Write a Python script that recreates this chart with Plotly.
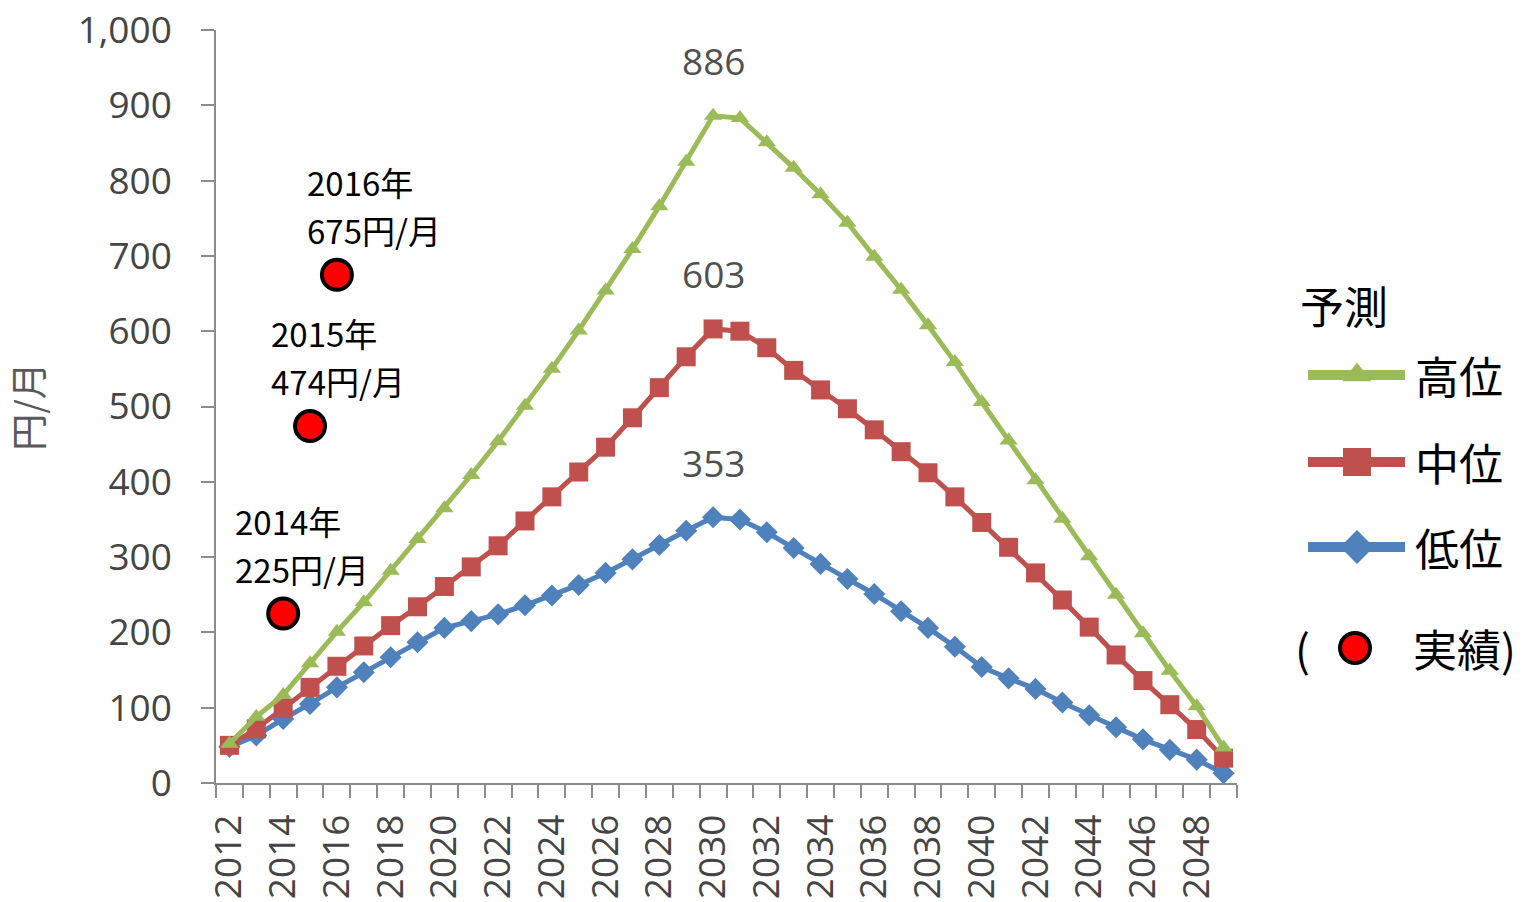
import plotly.graph_objects as go

# ---- data -------------------------------------------------------------
years = list(range(2012, 2050))

high = [52, 88, 117, 159, 201, 240, 282, 324, 365, 409,
        454, 501, 550, 601, 654, 709, 766, 825, 886, 883,
        851, 817, 782, 744, 699, 655, 608, 559, 506, 455,
        402, 351, 301, 250, 199, 149, 102, 47]

mid = [50, 72, 99, 127, 155, 182, 209, 234, 261, 287,
       315, 348, 380, 413, 446, 485, 525, 566, 603, 600,
       578, 548, 522, 497, 469, 440, 412, 380, 346, 313,
       279, 243, 207, 170, 136, 104, 71, 33]

low = [48, 63, 85, 105, 127, 147, 167, 187, 206, 215,
       224, 236, 249, 263, 279, 297, 316, 335, 353, 350,
       333, 312, 291, 271, 251, 228, 206, 181, 154, 139,
       125, 107, 90, 74, 58, 44, 31, 13]

series_names = ["高位", "中位", "低位"]
peak_year = 2030

actual_years = [2014, 2015, 2016]
actual_values = [225, 474, 675]

y_ticks = list(range(0, 1001, 100))
x_tick_years = list(range(2012, 2049, 2))

# ---- style ------------------------------------------------------------
GREEN = "#9BBB59"
RED = "#C0504D"
BLUE = "#4F81BD"
AXIS = "#8c8c8c"
TICK_TXT = "#454545"
NUM_FONT = "Open Sans"
JP_FONT = "Noto Sans CJK JP"

W, H = 1525, 902
M_L, M_R, M_T, M_B = 216, 0, 30, 119
PLOT_W = W - M_L - M_R
PLOT_RIGHT = 1237
LEG_LEFT = 1289

fig = go.Figure()

series = [
    (series_names[0], high, GREEN, "triangle-up", 16),
    (series_names[1], mid, RED, "square", 19),
    (series_names[2], low, BLUE, "diamond", 17),
]

# draw low first so the higher scenarios sit on top
for name, vals, col, sym, sz in reversed(series):
    fig.add_trace(go.Scatter(
        x=years, y=vals, mode="lines+markers", name=name,
        line=dict(color=col, width=5),
        marker=dict(symbol=sym, size=sz, color=col),
        showlegend=False, xaxis="x", yaxis="y",
    ))

# observed values
fig.add_trace(go.Scatter(
    x=actual_years, y=actual_values, mode="markers", name="実績",
    marker=dict(size=30, color="#FF0000", line=dict(color="black", width=4)),
    showlegend=False, xaxis="x", yaxis="y",
))

annotations = []

# peak value labels
for name, vals, col, sym, sz in series:
    pv = vals[years.index(peak_year)]
    annotations.append(dict(
        x=peak_year, y=pv, xref="x", yref="y", text=str(pv),
        showarrow=False, yshift=55,
        font=dict(family=NUM_FONT, size=37, color="#505050"),
    ))

# observed value labels (two lines each)
label_shift = [-49, -40, -31]
for yr, v, dx in zip(actual_years, actual_values, label_shift):
    for line_txt, dy in ((f"{yr}年", 93), (f"{v}円/月", 45)):
        annotations.append(dict(
            x=yr, y=v, xref="x", yref="y", text=line_txt,
            showarrow=False, xanchor="left", yanchor="middle",
            xshift=dx, yshift=dy, borderpad=0,
            font=dict(family=JP_FONT, size=33, color="black"),
        ))

# ---- custom legend drawn on its own small axes -------------------------
# legend frame: x in px from legend left edge, y in px from plot bottom
key_x0, key_xc, key_x1 = 19, 68, 116
text_x = 124
rows = {"title": 478, series_names[0]: 408, series_names[1]: 321,
        series_names[2]: 236, "実績": 135}
LEG_FONT = dict(family=JP_FONT, size=44, color="black")

for name, vals, col, sym, sz in series:
    yy = rows[name]
    fig.add_trace(go.Scatter(
        x=[key_x0, key_x1], y=[yy, yy], mode="lines",
        line=dict(color=col, width=10), showlegend=False,
        xaxis="x2", yaxis="y2", hoverinfo="skip",
    ))
    fig.add_trace(go.Scatter(
        x=[key_xc], y=[yy], mode="markers",
        marker=dict(symbol=sym, size=sz + 9, color=col),
        showlegend=False, xaxis="x2", yaxis="y2", hoverinfo="skip",
    ))
    annotations.append(dict(
        x=text_x, y=yy, xref="x2", yref="y2", text=name,
        showarrow=False, xanchor="left", yanchor="middle", font=LEG_FONT,
    ))

fig.add_trace(go.Scatter(
    x=[key_xc - 2], y=[rows["実績"]], mode="markers",
    marker=dict(size=30, color="#FF0000", line=dict(color="black", width=4)),
    showlegend=False, xaxis="x2", yaxis="y2", hoverinfo="skip",
))
annotations.append(dict(
    x=9, y=rows["title"], xref="x2", yref="y2", text="予測",
    showarrow=False, xanchor="left", yanchor="middle", font=LEG_FONT,
))
annotations.append(dict(
    x=4, y=rows["実績"], xref="x2", yref="y2", text="(",
    showarrow=False, xanchor="left", yanchor="middle",
    font=dict(family=JP_FONT, size=44, color="black"),
))
annotations.append(dict(
    x=text_x - 2, y=rows["実績"], xref="x2", yref="y2", text="実績)",
    showarrow=False, xanchor="left", yanchor="middle", font=LEG_FONT,
))

fig.update_layout(
    width=W, height=H,
    margin=dict(l=M_L, r=M_R, t=M_T, b=M_B, pad=0),
    plot_bgcolor="white", paper_bgcolor="white",
    showlegend=False,
    annotations=annotations,
    xaxis=dict(
        domain=[0, (PLOT_RIGHT - M_L) / PLOT_W],
        range=[years[0] - 0.5, years[-1] + 0.5],
        tickmode="array", tickvals=x_tick_years,
        ticktext=[str(y) for y in x_tick_years],
        tickangle=-90, ticks="",
        ticklabelstandoff=15,
        tickfont=dict(family=NUM_FONT, size=37, color=TICK_TXT),
        showline=True, linecolor=AXIS, linewidth=1.5,
        showgrid=False, zeroline=False,
        minor=dict(tickmode="linear", tick0=years[0] - 0.5, dtick=1,
                   ticks="outside", ticklen=13, tickwidth=1.5,
                   tickcolor=AXIS, showgrid=False),
        anchor="y",
    ),
    yaxis=dict(
        range=[0, 1000], tickmode="array", tickvals=y_ticks,
        tickformat=",", ticks="outside", ticklen=13, tickwidth=1.5,
        tickcolor=AXIS, ticklabelstandoff=22,
        tickfont=dict(family=NUM_FONT, size=37, color=TICK_TXT),
        showline=True, linecolor=AXIS, linewidth=1.5,
        showgrid=False, zeroline=False,
        title=dict(text="円/月", standoff=26,
                   font=dict(family=JP_FONT, size=37, color="#595959")),
        anchor="x",
    ),
    xaxis2=dict(
        domain=[(LEG_LEFT - M_L) / PLOT_W, 1], range=[0, W - LEG_LEFT],
        visible=False, anchor="y2", fixedrange=True,
    ),
    yaxis2=dict(
        domain=[0, 1], range=[0, H - M_T - M_B],
        visible=False, anchor="x2", fixedrange=True,
    ),
)

fig.write_html("out.html")
